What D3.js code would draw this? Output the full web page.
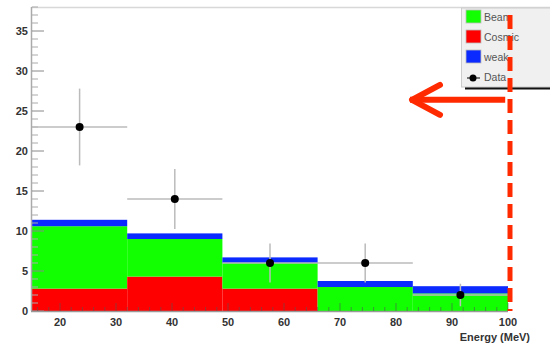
<!DOCTYPE html>
<html><head><meta charset="utf-8">
<script src="https://cdn.jsdelivr.net/npm/d3@7"></script>
<style>body{margin:0;background:#fff}svg{display:block}</style>
</head><body><svg id="c" width="550" height="344"></svg>
<script>
const binEdges = [15, 32, 49, 66, 83, 100];
const cosmic = [2.8, 4.3, 2.8, 0, 0];
const beam = [7.8, 4.7, 3.2, 3.0, 2.2];
const weak = [0.8, 0.7, 0.7, 0.75, 0.9];
const dataX = [23.5, 40.5, 57.5, 74.5, 91.5];
const dataY = [23, 14, 6, 6, 2];
const dataErr = [4.8, 3.74, 2.45, 2.45, 1.41];
const xTicks = [20, 30, 40, 50, 60, 70, 80, 90, 100];
const yTicks = [0, 5, 10, 15, 20, 25, 30, 35];
const legendLabels = ["Beam", "Cosmic", "weak", "Data"];
const cutX = 100;
const arrowFrom = [99.5, 26.4], arrowTo = [82.5, 26.4];

const svg = d3.select("#c");
const x = d3.scaleLinear().domain([15, 100]).range([32, 508]);
const y = d3.scaleLinear().domain([0, 38]).range([311, 7]);

const colors = {beam: "#11ff00", cosmic: "#ff0000", weak: "#0a2aff"};

// top frame line
svg.append("line").attr("x1", 31).attr("x2", 550).attr("y1", 7.5).attr("y2", 7.5)
  .attr("stroke", "#d8d8d8").attr("stroke-width", 1.5);

// stacked histogram
const bins = binEdges.slice(0, -1).map((e, i) => ({x0: e, x1: binEdges[i + 1], i}));
const g = svg.append("g");
bins.forEach(b => {
  const c = cosmic[b.i], be = beam[b.i], w = weak[b.i];
  const layers = [
    {lo: 0, hi: c, col: colors.cosmic},
    {lo: c, hi: c + be, col: colors.beam},
    {lo: c + be, hi: c + be + w, col: colors.weak}
  ];
  layers.forEach(l => {
    if (l.hi - l.lo <= 0) return;
    g.append("rect").attr("x", x(b.x0)).attr("width", x(b.x1) - x(b.x0))
      .attr("y", y(l.hi)).attr("height", y(l.lo) - y(l.hi)).attr("fill", l.col);
  });
});

// y axis
const yAxis = svg.append("g");
yAxis.append("line").attr("x1", 31.5).attr("x2", 31.5).attr("y1", 7).attr("y2", 311)
  .attr("stroke", "#aaa").attr("stroke-width", 1.5);
d3.range(0, 39, 1).forEach(v => {
  const major = v % 5 === 0;
  yAxis.append("line").attr("x1", 32).attr("x2", 32 + (major ? 12 : 6))
    .attr("y1", y(v)).attr("y2", y(v)).attr("stroke", major ? "#888" : "#aaa")
    .attr("stroke-width", 1);
});
yAxis.selectAll("text").data(yTicks).join("text")
  .attr("x", 28).attr("y", d => y(d) + 4).attr("text-anchor", "end")
  .attr("font-family", "Liberation Sans, Arial, sans-serif").attr("font-weight", "bold")
  .attr("font-size", 11).attr("fill", "#333").text(d => d);

// x axis
const xAxis = svg.append("g");
xAxis.append("line").attr("x1", 31).attr("x2", 508).attr("y1", 311.5).attr("y2", 311.5)
  .attr("stroke", "#999").attr("stroke-width", 1.5);
d3.range(16, 101, 2).forEach(v => {
  const major = v % 10 === 0;
  xAxis.append("line").attr("x1", x(v)).attr("x2", x(v))
    .attr("y1", 311).attr("y2", 311 - (major ? 8 : 4))
    .attr("stroke", "#555").attr("stroke-opacity", 0.6).attr("stroke-width", 1);
});
xAxis.selectAll("text").data(xTicks).join("text")
  .attr("x", d => x(d)).attr("y", 326).attr("text-anchor", "middle")
  .attr("font-family", "Liberation Sans, Arial, sans-serif").attr("font-weight", "bold")
  .attr("font-size", 11).attr("fill", "#333").text(d => d);
svg.append("text").attr("x", 530).attr("y", 341).attr("text-anchor", "end")
  .attr("font-family", "Liberation Sans, Arial, sans-serif").attr("font-weight", "bold")
  .attr("font-size", 11).attr("fill", "#333").text("Energy (MeV)");

// data points with errors
const pts = svg.append("g");
dataX.forEach((dx, i) => {
  pts.append("line").attr("x1", x(binEdges[i])).attr("x2", x(binEdges[i + 1]))
    .attr("y1", y(dataY[i])).attr("y2", y(dataY[i])).attr("stroke", "#bbb").attr("stroke-width", 1.5);
  pts.append("line").attr("x1", x(dx)).attr("x2", x(dx))
    .attr("y1", y(dataY[i] - dataErr[i])).attr("y2", y(dataY[i] + dataErr[i]))
    .attr("stroke", "#bbb").attr("stroke-width", 1.5);
  pts.append("circle").attr("cx", x(dx)).attr("cy", y(dataY[i])).attr("r", 4).attr("fill", "#000");
});

// legend
const lg = svg.append("g");
lg.append("rect").attr("x", 465).attr("y", 86).attr("width", 90).attr("height", 3.5).attr("fill", "#111");
lg.append("rect").attr("x", 461.5).attr("y", 8).attr("width", 95).attr("height", 79)
  .attr("fill", "#f0f0f0").attr("stroke", "#ccc").attr("stroke-width", 1);
const lcols = [colors.beam, colors.cosmic, colors.weak];
legendLabels.forEach((lab, i) => {
  const cy = 17 + i * 20;
  if (i < 3) {
    lg.append("rect").attr("x", 466).attr("y", cy - 7).attr("width", 15).attr("height", 13)
      .attr("fill", lcols[i]).attr("stroke", "#bbb").attr("stroke-width", 0.8);
  } else {
    lg.append("circle").attr("cx", 473).attr("cy", cy + 1).attr("r", 3.5).attr("fill", "#000");
    lg.append("line").attr("x1", 467).attr("x2", 480).attr("y1", cy + 1).attr("y2", cy + 1)
      .attr("stroke", "#000").attr("stroke-width", 1);
  }
  lg.append("text").attr("x", 484).attr("y", cy + 4)
    .attr("font-family", "Liberation Sans, Arial, sans-serif").attr("font-size", 10.5)
    .attr("fill", "#555").text(lab);
});

// cut line
const red = "#ff2a00";
svg.append("line").attr("x1", x(cutX) + 2).attr("x2", x(cutX) + 2)
  .attr("y1", y(37)).attr("y2", y(0)).attr("stroke", red).attr("stroke-width", 5)
  .attr("stroke-dasharray", "14 7");

// arrow
const ax0 = x(arrowFrom[0]), ay0 = y(arrowFrom[1]), ax1 = x(arrowTo[0]), ay1 = y(arrowTo[1]);
svg.append("path").attr("d", `M${ax0},${ay0}L${ax1},${ay1}`)
  .attr("stroke", red).attr("stroke-width", 6).attr("fill", "none").attr("stroke-linecap", "butt");
svg.append("path").attr("d", `M${ax1 + 30},${ay1 - 15}L${ax1 + 2},${ay1}L${ax1 + 30},${ay1 + 15}`)
  .attr("stroke", red).attr("stroke-width", 6).attr("fill", "none")
  .attr("stroke-linecap", "round").attr("stroke-linejoin", "round");
</script></body></html>
